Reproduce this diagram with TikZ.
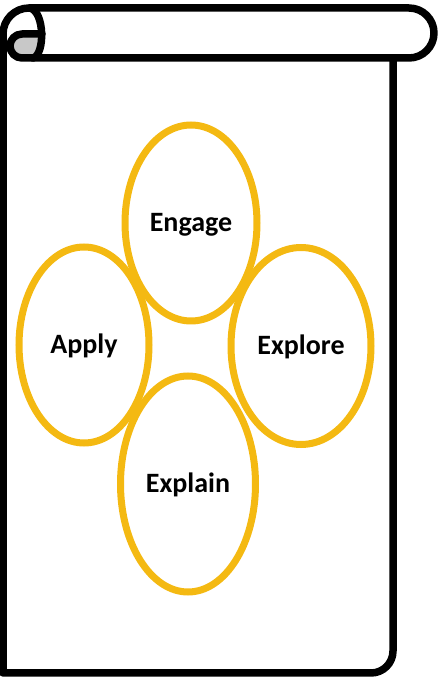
\documentclass[tikz,border=0pt]{standalone}
\usepackage{fontspec}
\setmainfont{Carlito}
\usetikzlibrary{shapes.geometric}
\definecolor{ringgold}{RGB}{244,185,18}
\definecolor{curlgray}{RGB}{200,200,200}
\tikzset{
  scrollline/.style={line width=7.5pt, line cap=round, line join=round, draw=black},
  ring/.style={ellipse, draw=ringgold, line width=7pt, inner sep=0pt,
    font=\bfseries\fontsize{28}{30}\selectfont, text height=18pt, text depth=0pt}
}
\begin{document}
\begin{tikzpicture}[x=1pt,y=1pt]
\useasboundingbox (0,0) rectangle (438,678);
% curl fill
\fill[curlgray] (42,644) -- (22,644) arc[start angle=90,end angle=270,radius=12]
  -- (33,620) .. controls (42,623) and (44,635) .. (42,644) -- cycle;
% paper body and roll
\draw[scrollline, line cap=butt] (3,644) -- (3,5) -- (371,5)
  arc[start angle=270,end angle=360,radius=22] -- (393,620);
\draw[scrollline] (3,644) arc[start angle=180,end angle=90,radius=26]
  -- (409,670) arc[start angle=90,end angle=-90,radius=25] -- (34,620);
\draw[scrollline] (30,670) .. controls (45,666) and (45,623) .. (33,620);
\draw[scrollline] (42,644) -- (22,644) arc[start angle=90,end angle=270,radius=12] -- (33,620);
% rings
\node[ring, minimum width=132pt, minimum height=196pt] (engage) at (191,455) {Engage};
\node[ring, minimum width=130pt, minimum height=196pt] (apply) at (84,333) {Apply};
\node[ring, minimum width=140pt, minimum height=197pt] (explore) at (301,332) {Explore};
\node[ring, minimum width=135pt, minimum height=216pt] (explain) at (188,194) {Explain};
\end{tikzpicture}
\end{document}
